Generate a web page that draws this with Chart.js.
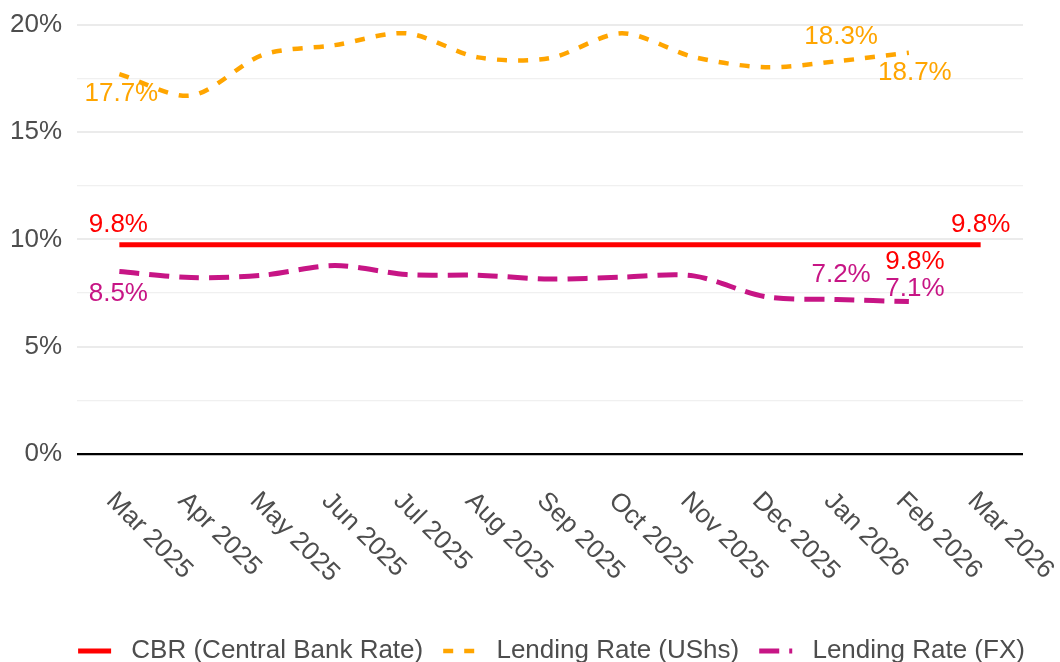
<!DOCTYPE html>
<html lang="en">
<head>
  <meta charset="UTF-8">
  <title>CBR and Lending Rates</title>
  <script src="https://cdn.jsdelivr.net/npm/chart.js"></script>
  <style>
    html, body { margin: 0; padding: 0; background: #fff; }
    #wrap { width: 1060px; height: 662px; position: relative; }
  </style>
</head>
<body>
  <div id="wrap"><canvas id="grafico"></canvas></div>
  <script>
    // months on the x axis
    const meses = ['Mar 2025', 'Apr 2025', 'May 2025', 'Jun 2025', 'Jul 2025', 'Aug 2025',
      'Sep 2025', 'Oct 2025', 'Nov 2025', 'Dec 2025', 'Jan 2026', 'Feb 2026', 'Mar 2026'];

    // series (percent)
    const cbr = [9.75, 9.75, 9.75, 9.75, 9.75, 9.75, 9.75, 9.75, 9.75, 9.75, 9.75, 9.75, 9.75];
    const lendingUShs = [17.7, 16.7, 18.6, 19.05, 19.6, 18.48, 18.45, 19.6, 18.5, 18.02, 18.3, 18.7];
    const lendingFX = [8.5, 8.22, 8.33, 8.78, 8.36, 8.33, 8.15, 8.24, 8.3, 7.33, 7.2, 7.1];

    const yTicks = [0, 5, 10, 15, 20];

    const GRIS = '#4d4d4d';
    const FUENTE = "'Liberation Sans', Arial, sans-serif";

    const toPts = arr => arr.map((v, i) => ({ x: i, y: v }));

    // which points get a value label: [dataset, index, dx, dy]
    const etiquetas = [
      [0, 0, -1, -20], [0, 11, 6, 17], [0, 12, 0, -20],
      [1, 0, 2, 20], [1, 10, 4, -24], [1, 11, 6, 20],
      [2, 0, -1, 22], [2, 10, 4, -25], [2, 11, 6, -13]
    ];

    const pluginTextos = {
      id: 'textos',
      afterLayout(chart) {
        // the legend sits a bit right of the plot centre in the original
        chart.legend.left += 40;
        chart.legend.right += 40;
      },
      afterDatasetsDraw(chart) {
        const ctx = chart.ctx;
        ctx.save();
        ctx.font = '26px ' + FUENTE;
        ctx.textAlign = 'center';
        ctx.textBaseline = 'middle';
        etiquetas.forEach(([d, i, dx, dy]) => {
          const ds = chart.data.datasets[d];
          const pt = chart.getDatasetMeta(d).data[i];
          ctx.fillStyle = ds.borderColor;
          ctx.fillText(ds.data[i].y.toFixed(1) + '%', pt.x + dx, pt.y + dy);
        });
        ctx.restore();

        // rotated month labels
        const xs = chart.scales.x;
        const base = chart.chartArea.bottom;
        ctx.save();
        ctx.font = '26px ' + FUENTE;
        ctx.fillStyle = GRIS;
        ctx.textAlign = 'left';
        ctx.textBaseline = 'alphabetic';
        meses.forEach((m, i) => {
          ctx.save();
          ctx.translate(xs.getPixelForValue(i) - 14, base + 48);
          ctx.rotate(Math.PI / 4);
          ctx.fillText(m, 0, 0);
          ctx.restore();
        });
        ctx.restore();
      }
    };

    new Chart(document.getElementById('grafico'), {
      type: 'line',
      data: {
        datasets: [
          {
            label: 'CBR (Central Bank Rate)',
            data: toPts(cbr),
            borderColor: '#ff0000',
            backgroundColor: '#ff0000',
            borderWidth: 5,
            borderDash: [],
            pointRadius: 0,
            tension: 0
          },
          {
            label: 'Lending Rate (UShs)',
            data: toPts(lendingUShs),
            borderColor: '#ffa500',
            backgroundColor: '#ffa500',
            borderWidth: 4.5,
            borderDash: [10, 11],
            pointRadius: 0,
            tension: 0.3
          },
          {
            label: 'Lending Rate (FX)',
            data: toPts(lendingFX),
            borderColor: '#c71585',
            backgroundColor: '#c71585',
            borderWidth: 5,
            borderDash: [20, 10],
            pointRadius: 0,
            tension: 0.3
          }
        ]
      },
      options: {
        responsive: true,
        maintainAspectRatio: false,
        animation: false,
        layout: { padding: { top: 0, right: 37, left: 0, bottom: -12 } },
        plugins: {
          tooltip: { enabled: false },
          legend: {
            position: 'bottom',
            labels: {
              usePointStyle: true,
              pointStyle: 'line',
              pointStyleWidth: 33,
              padding: 20,
              color: GRIS,
              font: { size: 26, family: FUENTE },
              generateLabels(chart) {
                return chart.data.datasets.map((ds, i) => ({
                  text: ' ' + ds.label,
                  fillStyle: ds.borderColor,
                  strokeStyle: ds.borderColor,
                  lineWidth: ds.borderWidth,
                  lineDash: ds.borderDash,
                  pointStyle: 'line',
                  fontColor: GRIS,
                  hidden: false,
                  datasetIndex: i
                }));
              }
            }
          }
        },
        scales: {
          x: {
            type: 'linear',
            min: -0.59,
            max: 12.59,
            grid: { display: false },
            border: { display: false },
            ticks: { display: false },
            afterFit(s) { s.height = 164; }
          },
          y: {
            min: 0,
            max: 20,
            border: { display: false },
            grid: {
              drawTicks: false,
              color: c => c.tick.value === 0 ? '#000000' : (c.tick.value % 5 === 0 ? '#ebebeb' : '#f0f0f0'),
              lineWidth: c => c.tick.value === 0 ? 2.2 : (c.tick.value % 5 === 0 ? 2 : 1.2)
            },
            ticks: {
              stepSize: 2.5,
              padding: 15,
              color: GRIS,
              font: { size: 26, family: FUENTE, lineHeight: 0.75 },
              callback: v => yTicks.includes(v) ? v + '%' : ''
            },
            afterFit(s) { s.width = 77; }
          }
        }
      },
      plugins: [pluginTextos]
    });
  </script>
</body>
</html>
